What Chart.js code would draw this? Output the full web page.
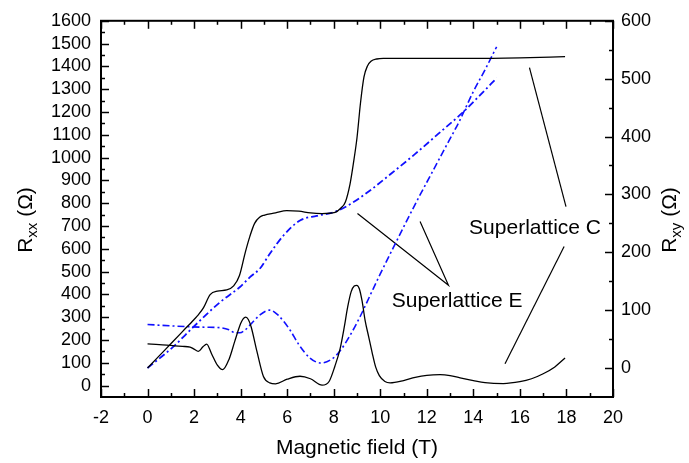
<!DOCTYPE html>
<html>
<head>
<meta charset="utf-8">
<script src="https://cdn.jsdelivr.net/npm/chart.js@4.4.1/dist/chart.umd.min.js"></script>
<style>
  body { margin: 0; background: #fff; }
  canvas { display: block; }
</style>
</head>
<body>
<canvas id="chart" width="689" height="463"></canvas>
<script>
// tick labels
const xTicks = [-2, 0, 2, 4, 6, 8, 10, 12, 14, 16, 18, 20];
const rxxTicks = [0, 100, 200, 300, 400, 500, 600, 700, 800, 900, 1000, 1100, 1200, 1300, 1400, 1500, 1600];
const rxyTicks = [0, 100, 200, 300, 400, 500, 600];

// Superlattice C, Rxx (left axis) - [field T, ohm]
const rxxC = [
  [0, 183], [0.5, 180], [1.0, 176], [1.5, 172], [1.83, 169], [2.0, 160], [2.18, 150],
  [2.38, 170], [2.54, 182], [2.75, 140], [3.0, 90], [3.23, 70], [3.5, 115], [3.75, 195],
  [4.0, 272], [4.1, 292], [4.22, 300], [4.33, 290], [4.45, 258], [4.7, 150], [4.98, 40],
  [5.25, 12], [5.5, 8], [6.0, 28], [6.55, 41], [7.0, 30], [7.5, 2], [7.8, 18], [8.05, 85],
  [8.27, 160], [8.45, 255], [8.6, 345], [8.75, 412], [8.88, 437], [8.99, 440], [9.1, 425],
  [9.22, 370], [9.35, 285], [9.5, 215], [9.65, 145], [9.8, 82], [9.96, 44], [10.2, 18],
  [10.42, 12], [11.0, 22], [11.5, 36], [12.0, 45], [12.57, 48], [13.0, 44], [13.43, 34],
  [14.0, 22], [14.5, 13], [15.29, 9], [16.0, 17], [16.5, 30], [17.0, 52], [17.5, 82],
  [17.94, 121]
];

// Superlattice C, Rxy (right axis)
const rxyC = [
  [0, 0], [0.5, 21], [1.0, 42], [1.5, 63], [2.0, 84], [2.18, 92], [2.4, 104], [2.69, 127],
  [3.0, 133], [3.4, 135], [3.7, 142], [3.95, 160], [4.2, 200], [4.4, 228], [4.6, 250],
  [4.83, 261], [5.0, 264], [5.5, 268], [5.98, 272], [6.5, 271], [7.0, 268], [7.5, 267],
  [8.06, 269], [8.3, 276], [8.5, 287], [8.7, 318], [8.85, 355], [9.0, 398], [9.15, 458],
  [9.3, 503], [9.45, 522], [9.6, 530], [9.85, 534], [10.13, 535], [12.0, 535],
  [13.86, 535], [16.0, 536], [17.94, 538]
];

// Superlattice E, Rxx (left axis)
const rxxE = [
  [0, 268], [1.0, 262], [1.83, 258], [2.5, 256], [3.12, 254], [3.5, 245], [3.76, 232],
  [3.97, 232], [4.2, 245], [4.4, 265], [4.83, 310], [5.26, 331], [5.6, 310], [6.12, 244],
  [6.5, 180], [6.98, 121], [7.45, 99], [7.9, 115], [8.27, 152], [8.7, 220], [9.13, 302],
  [9.56, 395], [10.0, 490], [10.56, 605], [11.0, 695], [11.6, 815], [12.2, 930],
  [12.8, 1045], [13.4, 1160], [14.0, 1290], [14.5, 1385], [15.0, 1486]
];

// Superlattice E, Rxy (right axis)
const rxyE = [
  [0, 0], [1.11, 37], [1.97, 71], [3.12, 114], [3.97, 140], [4.4, 157], [4.83, 172],
  [5.26, 198], [5.84, 229], [6.55, 255], [7.27, 263], [8.06, 270], [8.7, 283], [9.5, 305],
  [10.5, 337], [11.5, 370], [12.5, 405], [13.5, 440], [14.3, 472], [15.0, 501]
];

// callout lines and labels, in field / Rxx units
const calloutE = [[9.02, 755], [12.93, 440], [11.71, 720]];
const calloutC1 = [[16.41, 1395], [17.98, 785]];
const calloutC2 = [[17.9, 610], [15.36, 96]];
const labels = [
  { text: "Superlattice E", x: 13.3, y: 370 },
  { text: "Superlattice C", x: 16.65, y: 689 }
];

const FONT = "'Liberation Sans', Arial, sans-serif";
const toXY = (arr) => arr.map((p) => ({ x: p[0], y: p[1] }));

const curve = (data, axis, color, dash, width) => ({
  data: toXY(data),
  yAxisID: axis,
  borderColor: color,
  borderWidth: width,
  borderDash: dash,
  pointRadius: 0,
  cubicInterpolationMode: "monotone",
  fill: false,
});
const callout = (data) => ({
  data: toXY(data),
  yAxisID: "y",
  borderColor: "#000",
  borderWidth: 1.2,
  pointRadius: 0,
  tension: 0,
  fill: false,
});

const frame = {
  id: "frame",
  afterDraw(chart) {
    const ctx = chart.ctx;
    const { left, right, top, bottom } = chart.chartArea;
    const xs = chart.scales.x, yl = chart.scales.y, yr = chart.scales.y2;
    ctx.save();
    ctx.strokeStyle = "#000";
    ctx.lineWidth = 1.5;
    const tick = (x1, y1, x2, y2) => { ctx.beginPath(); ctx.moveTo(x1, y1); ctx.lineTo(x2, y2); ctx.stroke(); };
    const withMinor = (t) => {
      const out = [];
      t.forEach((v, i) => { out.push([v, true]); if (i < t.length - 1) out.push([(v + t[i + 1]) / 2, false]); });
      return out;
    };
    withMinor(xTicks).forEach(([v, major]) => {
      const px = Math.round(xs.getPixelForValue(v)) + 0.5;
      const l = major ? 8 : 4;
      tick(px, bottom, px, bottom - l);
      tick(px, top, px, top + l);
    });
    withMinor(rxxTicks).forEach(([v, major]) => {
      const py = Math.round(yl.getPixelForValue(v)) + 0.5;
      tick(left, py, left + (major ? 8 : 4), py);
    });
    withMinor(rxyTicks).forEach(([v, major]) => {
      const py = Math.round(yr.getPixelForValue(v)) + 0.5;
      tick(right, py, right - (major ? 8 : 4), py);
    });
    ctx.lineWidth = 2;
    ctx.strokeRect(left, top, right - left, bottom - top);

    // labels on the plot
    ctx.fillStyle = "#000";
    ctx.font = "21px " + FONT;
    ctx.textAlign = "center";
    ctx.textBaseline = "middle";
    labels.forEach((l) => ctx.fillText(l.text, xs.getPixelForValue(l.x), yl.getPixelForValue(l.y)));

    // axis titles
    ctx.fillText("Magnetic field (T)", (left + right) / 2, 448);
    const yTitle = (cx, cy, sub) => {
      ctx.save();
      ctx.translate(cx, cy);
      ctx.rotate(-Math.PI / 2);
      ctx.textAlign = "left";
      ctx.textBaseline = "alphabetic";
      const big = "21px " + FONT, small = "15px " + FONT;
      ctx.font = big;
      const wR = ctx.measureText("R").width;
      const wT = ctx.measureText(" (\u03A9)").width;
      ctx.font = small;
      const wS = ctx.measureText(sub).width;
      let x = -(wR + wS + wT) / 2;
      ctx.font = big;
      ctx.fillText("R", x, 8);
      x += wR;
      ctx.font = small;
      ctx.fillText(sub, x, 13);
      x += wS;
      ctx.font = big;
      ctx.fillText(" (\u03A9)", x, 8);
      ctx.restore();
    };
    yTitle(24, 220, "xx");
    yTitle(668, 220, "xy");
    ctx.restore();
  },
};

const tickStyle = (pad) => ({
  autoSkip: false,
  maxRotation: 0,
  padding: pad,
  color: "#000",
  font: { family: FONT, size: 18 },
  callback: (v) => String(v),
});

new Chart(document.getElementById("chart").getContext("2d"), {
  type: "line",
  data: {
    datasets: [
      curve(rxxC, "y", "#000", [], 1.3),
      curve(rxyC, "y2", "#000", [], 1.3),
      curve(rxxE, "y", "#1010ff", [7, 3, 2, 3], 1.6),
      curve(rxyE, "y2", "#1010ff", [7, 3, 2, 3], 1.8),
      callout(calloutE),
      callout(calloutC1),
      callout(calloutC2),
    ],
  },
  options: {
    responsive: false,
    animation: false,
    layout: { padding: { top: 19, left: 0, right: 0, bottom: 0 } },
    plugins: { legend: { display: false }, tooltip: { enabled: false } },
    scales: {
      x: {
        type: "linear",
        min: -2,
        max: 20,
        afterBuildTicks: (s) => { s.ticks = xTicks.map((v) => ({ value: v })); },
        afterFit: (s) => { s.height = 66; },
        grid: { display: false, drawTicks: false },
        border: { display: false },
        ticks: tickStyle(10),
      },
      y: {
        type: "linear",
        position: "left",
        min: -50,
        max: 1600,
        afterBuildTicks: (s) => { s.ticks = rxxTicks.map((v) => ({ value: v })); },
        afterFit: (s) => { s.width = 101; },
        grid: { display: false, drawTicks: false },
        border: { display: false },
        ticks: tickStyle(10),
      },
      y2: {
        type: "linear",
        position: "right",
        min: -50,
        max: 600,
        afterBuildTicks: (s) => { s.ticks = rxyTicks.map((v) => ({ value: v })); },
        afterFit: (s) => { s.width = 76; },
        grid: { display: false, drawTicks: false },
        border: { display: false },
        ticks: tickStyle(8),
      },
    },
  },
  plugins: [frame],
});
</script>
</body>
</html>
